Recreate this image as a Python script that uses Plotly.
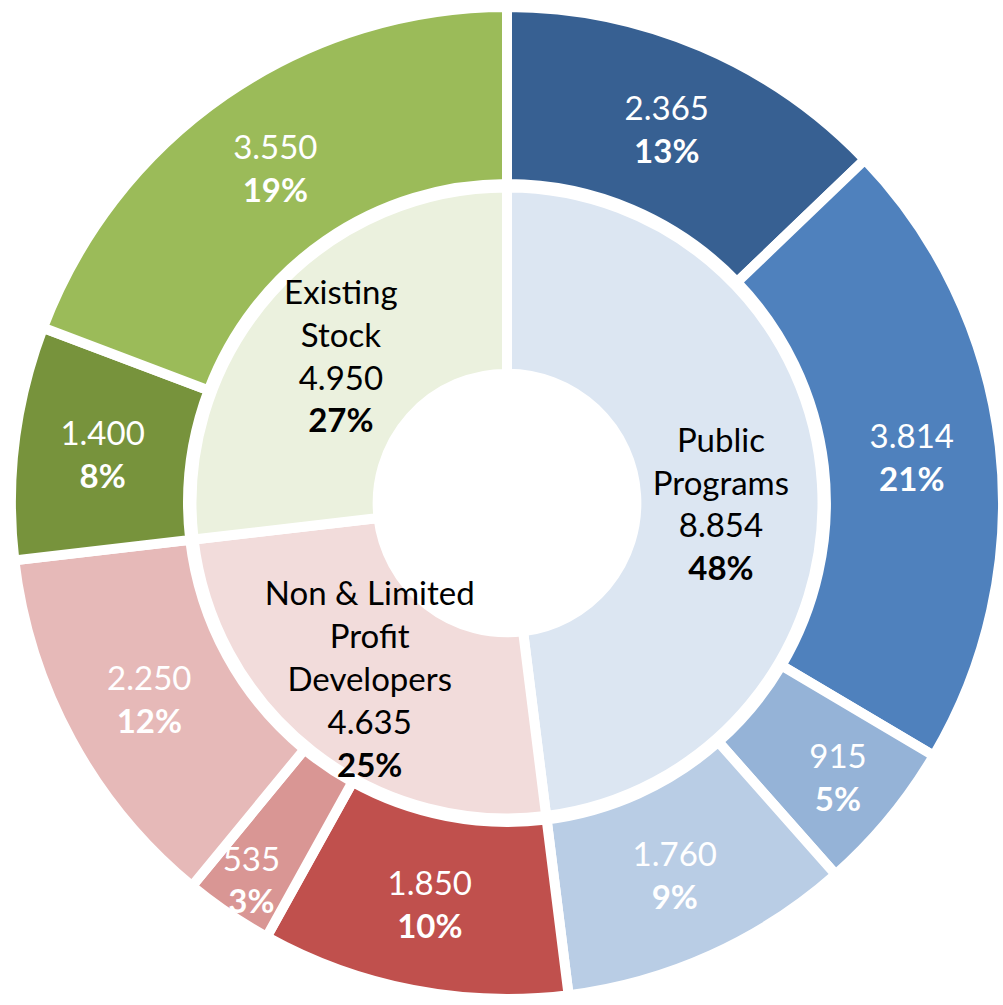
import plotly.graph_objects as go

# Inner ring (groups)
group_labels = ["Public<br>Programs", "Non & Limited<br>Profit<br>Developers", "Existing<br>Stock"]
group_values = [8854, 4635, 4950]
group_pct = [48, 25, 27]
group_colors = ["#DCE6F2", "#F2DCDB", "#EBF1DE"]

# Outer ring (sub-categories, grouped in same order)
sub_labels = ["PP-1", "PP-2", "PP-3", "PP-4", "NL-1", "NL-2", "NL-3", "ES-1", "ES-2"]
sub_values = [2365, 3814, 915, 1760, 1850, 535, 2250, 1400, 3550]
sub_pct = [13, 21, 5, 9, 10, 3, 12, 8, 19]
sub_colors = ["#376092", "#4F81BD", "#95B3D7", "#B9CDE5",
              "#C0504D", "#D99694", "#E6B9B8",
              "#77933C", "#9BBB59"]

FONT = "Lato"
FS = 33
LW = 10

fig = go.Figure()

fig.add_trace(go.Pie(
    labels=sub_labels, values=sub_values, customdata=sub_pct,
    marker=dict(colors=sub_colors, line=dict(color="white", width=LW)),
    hole=0.643, sort=False, direction="clockwise", rotation=0,
    domain=dict(x=[0.01097, 1.0], y=[0.00597, 0.99303]),
    texttemplate="%{value:,}<br><b>%{customdata}%</b>",
    textposition="inside", insidetextorientation="horizontal",
    textfont=dict(family=FONT, size=FS, color="white"),
    hoverinfo="label+value+percent", showlegend=False,
))

fig.add_trace(go.Pie(
    labels=group_labels, values=group_values, customdata=group_pct,
    marker=dict(colors=group_colors, line=dict(color="white", width=LW)),
    hole=0.41, sort=False, direction="clockwise", rotation=0,
    domain=dict(x=[0.19093, 0.82004], y=[0.18557, 0.81343]),
    texttemplate="%{label}<br>%{value:,}<br><b>%{customdata}%</b>",
    textposition="inside", insidetextorientation="horizontal",
    textfont=dict(family=FONT, size=FS, color="black"),
    hoverinfo="label+value+percent", showlegend=False,
))

fig.update_layout(
    width=1003, height=1005,
    margin=dict(l=0, r=0, t=0, b=0),
    paper_bgcolor="white", plot_bgcolor="white",
    separators=",.",
    uniformtext=dict(minsize=FS, mode="show"),
    showlegend=False,
)

fig.write_html(
    "out.html",
    config={"displayModeBar": False},
    post_script="document.body.style.margin='0';document.body.style.overflow='hidden';",
)
